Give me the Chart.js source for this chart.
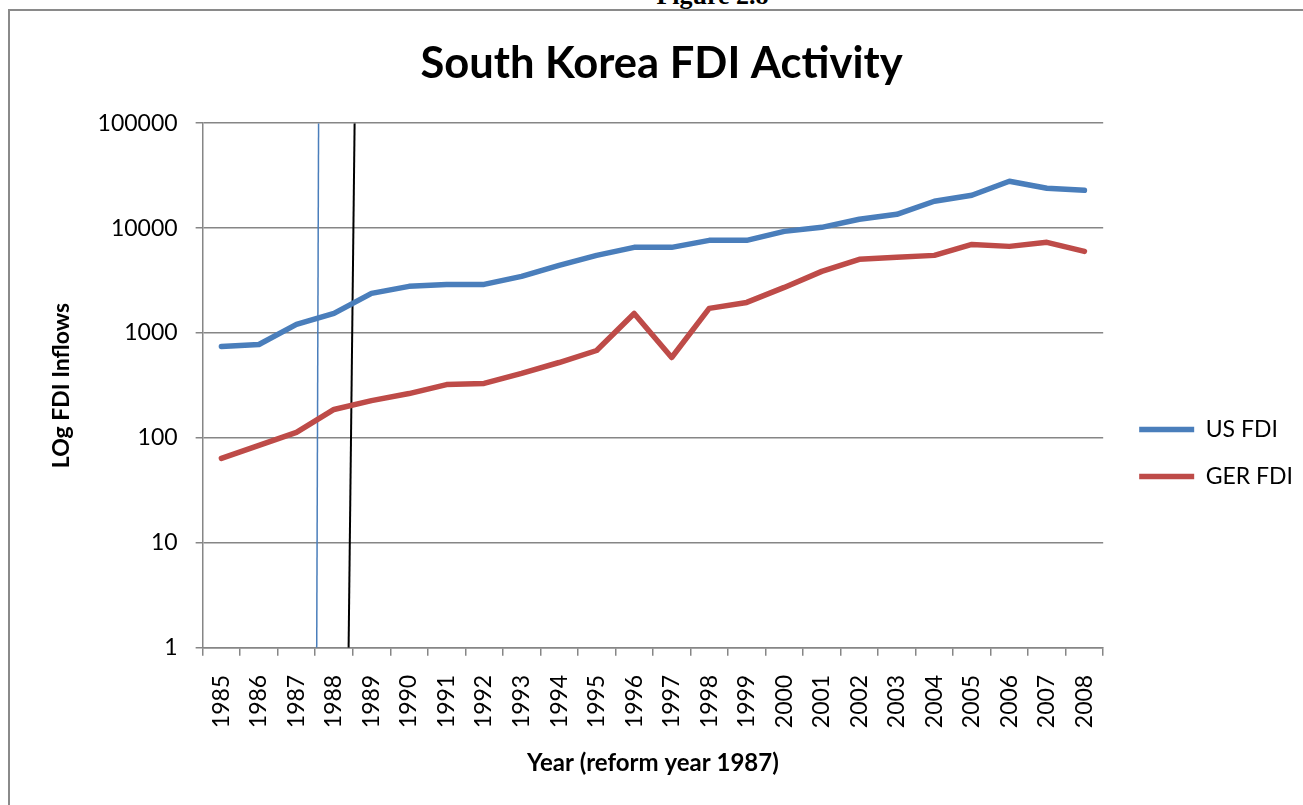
<!DOCTYPE html>
<html>
<head>
<meta charset="utf-8">
<script src="https://cdn.jsdelivr.net/npm/chart.js@4.4.0/dist/chart.umd.min.js"></script>
<style>
  html, body { margin: 0; padding: 0; background: #fff; overflow: hidden; }
  #fig { position: absolute; left: 61px; top: -19px; width: 1303px; text-align: center;
         font: bold 26px "Liberation Serif", serif; color: #000; }
  #frame { position: absolute; left: 8px; top: 9px; width: 1400px; height: 900px;
           border: 2px solid #8a8a8a; }
  #wrap { position: absolute; left: 0; top: 0; width: 1303px; height: 805px; }
</style>
</head>
<body>
<div id="fig">Figure 2.8</div>
<div id="frame"></div>
<div id="wrap"><canvas id="chart"></canvas></div>
<script>
// values
const years = ['1985', '1986', '1987', '1988', '1989', '1990', '1991', '1992', '1993', '1994', '1995', '1996',
  '1997', '1998', '1999', '2000', '2001', '2002', '2003', '2004', '2005', '2006', '2007', '2008'];
const usFdi = [745, 778, 1208, 1538, 2388, 2786, 2910, 2910, 3467, 4416, 5500, 6560,
  6560, 7650, 7650, 9310, 10180, 12140, 13550, 18030, 20560, 27980, 23980, 22950];
const gerFdi = [64, 85, 113, 187, 227, 265, 323, 331, 412, 524, 682, 1538,
  585, 1718, 1959, 2723, 3872, 5040, 5265, 5500, 7000, 6700, 7325, 6010];
const yTicks = [1, 10, 100, 1000, 10000, 100000];

// hand-drawn reform markers, in category units (0 = 1985)
const blueMarker = [{ x: 2.59, y: 100000 }, { x: 2.54, y: 1 }];
const blackMarker = [{ x: 3.55, y: 100000 }, { x: 3.39, y: 1 }];

const gray = '#868686';
const font = 'Lato';

const lineStyle = (color) => ({
  yAxisID: 'y',
  borderColor: color,
  backgroundColor: color,
  borderWidth: 5.5,
  pointRadius: 0,
  borderCapStyle: 'round',
  borderJoinStyle: 'round',
  tension: 0
});

const ctx = document.getElementById('chart').getContext('2d');
new Chart(ctx, {
  type: 'line',
  data: {
    labels: years,
    datasets: [
      { label: 'US FDI', data: usFdi, ...lineStyle('#4A7EBB') },
      { label: 'GER FDI', data: gerFdi, ...lineStyle('#BE4B48') },
      { label: 'marker1', data: blueMarker, xAxisID: 'x2', yAxisID: 'y', borderColor: '#4A7EBB', borderWidth: 1.5, pointRadius: 0 },
      { label: 'marker2', data: blackMarker, xAxisID: 'x2', yAxisID: 'y', borderColor: '#000', borderWidth: 2, pointRadius: 0 }
    ]
  },
  options: {
    responsive: true,
    maintainAspectRatio: false,
    animation: false,
    layout: { padding: { top: 28, left: 20, right: 0, bottom: 23 } },
    plugins: {
      title: {
        display: true,
        text: 'South Korea FDI Activity',
        color: '#000',
        font: { family: font, size: 43.5, weight: 'bold' },
        padding: { top: 10, bottom: 33 }
      },
      legend: {
        position: 'right',
        // empty title just pushes the items down a bit
        title: { display: true, text: '', font: { size: 1 }, padding: { top: 47, bottom: 48 } },
        labels: {
          usePointStyle: true,
          pointStyle: 'line',
          pointStyleWidth: 55,
          color: '#000',
          font: { family: font, size: 23 },
          padding: 24,
          filter: (item) => item.datasetIndex < 2
        }
      },
      tooltip: { enabled: false }
    },
    scales: {
      x: {
        type: 'category',
        offset: true,
        grid: { offset: true, drawOnChartArea: false, tickLength: 8, color: gray, lineWidth: 1.5 },
        border: { color: gray, width: 1.5 },
        ticks: { minRotation: 90, maxRotation: 90, autoSkip: false, color: '#000',
                 font: { family: font, size: 23 }, padding: 19 },
        title: { display: true, text: 'Year (reform year 1987)', color: '#000',
                 font: { family: font, size: 24, weight: 'bold' }, padding: { top: 2 } }
      },
      x2: { type: 'linear', display: false, min: -0.5, max: 23.5, offset: false },
      y: {
        type: 'logarithmic',
        min: 1,
        max: 100000,
        afterBuildTicks: (axis) => { axis.ticks = yTicks.map((v) => ({ value: v })); },
        ticks: { callback: (v) => String(v), color: '#000', font: { family: font, size: 23 }, padding: 18 },
        grid: { color: gray, lineWidth: 1.5, tickLength: 7 },
        border: { color: gray, width: 1.5 },
        title: { display: true, text: 'LOg FDI Inflows', color: '#000',
                 font: { family: font, size: 23, weight: 'bold' }, padding: { top: 28, bottom: 4 } }
      },
      // keeps a small gap between the plot and the legend
      gap: {
        type: 'linear',
        position: 'right',
        grid: { display: false },
        border: { display: false },
        ticks: { display: false },
        afterFit: (axis) => { axis.width = 12; }
      }
    }
  }
});
</script>
</body>
</html>
